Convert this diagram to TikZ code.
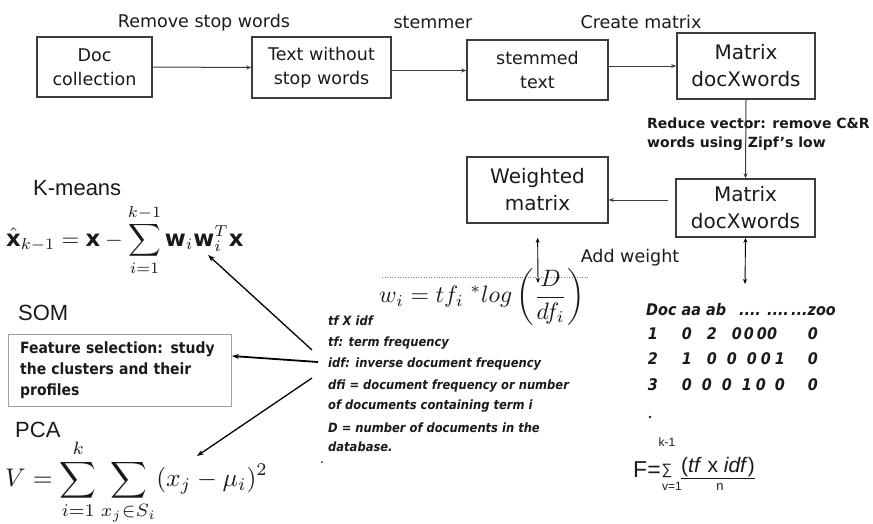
\documentclass[tikz,border=0pt]{standalone}
\usepackage{fontspec}
\usepackage{graphicx}
\setmainfont{DejaVu Sans}
\newfontfamily\condfont[FakeStretch=0.9]{DejaVu Sans}
\newfontfamily\arialfont{Liberation Sans}
\usetikzlibrary{arrows.meta}
\definecolor{boxline}{HTML}{3C3C3C}
\definecolor{featline}{HTML}{A0A0A0}
\definecolor{inkc}{HTML}{1A1A1A}
\begin{document}
\begin{tikzpicture}[x=1pt,y=-1pt,
  box/.style={draw=boxline, line width=1.6pt, align=center, inner sep=0pt, text=inkc},
  bigbox/.style={box, font=\fontsize{20}{27}\selectfont},
  smallbox/.style={box, font=\fontsize{17.5}{24}\selectfont},
  flow/.style={draw=boxline, line width=1pt, -{Stealth[length=5pt,width=4pt]}},
  bothflow/.style={draw=black, line width=0.9pt, {Stealth[length=5pt,width=4pt]}-{Stealth[length=5pt,width=4pt]}},
  pointer/.style={draw=black, line width=1.3pt, -{Stealth[length=7pt,width=5pt]}},
  lbl/.style={inner sep=0pt, text=inkc, font=\fontsize{17.5}{20}\selectfont},
  method/.style={inner sep=0pt, anchor=west, text=inkc, font=\arialfont\fontsize{22}{26}\selectfont},
  note/.style={inner sep=0pt, anchor=west, text=inkc, text height=9.5pt, text depth=3pt, font=\condfont\bfseries\itshape\fontsize{12.8}{16}\selectfont},
  cell/.style={inner sep=0pt, text=inkc, text height=11.5pt, text depth=0pt, font=\condfont\bfseries\itshape\fontsize{16}{18}\selectfont},
  flab/.style={inner sep=0pt, text=inkc, font=\arialfont\fontsize{12}{14}\selectfont}
]
\useasboundingbox (0,0) rectangle (873,523);

% top row
\node[smallbox, minimum width=115pt, minimum height=60pt] (doc) at (94.5,67) {Doc\\collection};
\node[smallbox, minimum width=139pt, minimum height=61pt] (nostop) at (321.5,67.5) {Text without\\stop words};
\node[smallbox, minimum width=141pt, minimum height=60pt] (stem) at (537.5,70) {stemmed\\text};
\node[bigbox, minimum width=138pt, minimum height=66pt] (mat1) at (746,66) {Matrix\\docXwords};
\node[bigbox, minimum width=139pt, minimum height=58pt] (mat2) at (745.5,208) {Matrix\\docXwords};
\node[bigbox, minimum width=141pt, minimum height=66pt] (wmat) at (537.5,190) {Weighted\\matrix};

\node[lbl] (l1) at (204,23) {Remove stop words};
\node[lbl] (l2) at (433,22) {stemmer};
\node[lbl] (l3) at (641,22) {Create matrix};
\node[lbl] (l4) at (630,258) {Add weight};
\node[anchor=north west, align=left, inner sep=0pt, text=inkc, font=\bfseries\fontsize{14}{19}\selectfont] (red) at (647,118) {Reduce vector: remove C\&R\\words using Zipf's low};

\draw[flow] (doc.east) -- (nostop.west);
\draw[flow] ([yshift=-3pt]nostop.east) -- ([yshift=-3pt]nostop.east -| stem.west);
\draw[flow] (stem.east |- mat1.west) -- (mat1.west);
\draw[flow] (mat1.south) -- (mat2.north);
\coordinate (wa) at ([xshift=-7pt,yshift=8pt]mat2.west);
\draw[flow] (wa) -- (wa -| wmat.east);
\coordinate (tabtop) at (745,284);
\draw[bothflow] (mat2.south) -- (tabtop);
\coordinate (wbot) at (538,283);
\draw[bothflow, shorten <=14pt] (wmat.south) -- (wbot);

% weight formula
\draw[dotted, gray, line width=0.6pt] (382,277) -- (588,277);
\node[inner sep=0pt, anchor=west, text=inkc] (wf) at (379,297) {\scalebox{2.37}{$\displaystyle w_i = tf_i\;{}^{*}log\left(\frac{D}{df_i}\right)$}};

% tf-idf notes
\node[note] (n1) at (328,322) {tf X idf};
\node[note] (n2) at (328,343) {tf: term frequency};
\node[note] (n3) at (328,364) {idf: inverse document frequency};
\node[note] (n4) at (328,386) {dfi = document frequency or number};
\node[note] (n5) at (328,406) {of documents containing term i};
\node[note] (n6) at (328,429) {D = number of documents in the};
\node[note] (n7) at (328,448) {database.};
\fill[inkc] (322,462) circle (1pt);

% left methods
\node[method] (km) at (33,188) {K-means};
\node[inner sep=0pt, anchor=west, text=inkc] (fx) at (6,240) {\scalebox{2.27}{$\displaystyle \hat{\mathbf{x}}_{k-1} = \mathbf{x} - \sum_{i=1}^{k-1}\mathbf{w}_i\mathbf{w}_i^T\mathbf{x}$}};
\node[method] (som) at (18,313) {SOM};
\node[draw=featline, line width=1.3pt, anchor=north west, minimum width=223pt, minimum height=72pt, text width=200pt, align=left, inner xsep=11pt, inner ysep=0pt, text=inkc, font=\condfont\bfseries\fontsize{15.5}{21}\selectfont] (feat) at (8,334) {Feature selection: study\\the clusters and their\\profiles};
\node[method] (pca) at (15,430) {PCA};
\node[inner sep=0pt, anchor=west, text=inkc] (fv) at (5,482) {\scalebox{2.55}{$\displaystyle V=\sum_{i=1}^{k}\sum_{x_j\in S_i}(x_j-\mu_i)^2$}};

\coordinate (a1s) at (312,350);
\coordinate (a1e) at (208,255);
\coordinate (a2s) at (318,362);
\coordinate (a2e) at (232,356);
\coordinate (a3s) at (312,378);
\coordinate (a3e) at (197,456);
\draw[pointer] (a1s) -- (a1e);
\draw[pointer, line width=1.8pt] (a2s) -- (a2e);
\draw[pointer] (a3s) -- (a3e);

% matrix table
\node[cell, anchor=west] (h1) at (646,310) {Doc aa ab};
\node[cell] (h2) at (750,310) {....};
\node[cell] (h3) at (778,310) {....};
\node[cell, anchor=west] (h4) at (791,310) {...zoo};
\foreach \xx/\tt [count=\k] in {653/1,687/0,712/2,737/0,749/0,767/00,813/0}
  \node[cell] (ra\k) at (\xx,334) {\tt};
\foreach \xx/\tt [count=\k] in {653/2,687/1,712/0,732/0,752/0,766/0,780/1,813/0}
  \node[cell] (rb\k) at (\xx,359) {\tt};
\foreach \xx/\tt [count=\k] in {653/3,687/0,707/0,727/0,747/1,761/0,780/0,813/0}
  \node[cell] (rc\k) at (\xx,385) {\tt};
\fill[inkc] (650,417) circle (1.3pt);

% F formula
\node[inner sep=0pt, anchor=west, text=inkc, font=\arialfont\fontsize{23}{26}\selectfont] (fF) at (633,470) {F=};
\node[inner sep=0pt, text=inkc, font=\arialfont\fontsize{15}{18}\selectfont] (fS) at (667,471) {∑};
\node[flab] (fk) at (667,442) {k-1};
\node[flab] (fvv) at (672,486) {v=1};
\node[inner sep=0pt, anchor=west, text=inkc, font=\arialfont\fontsize{21}{24}\selectfont] (ft) at (681,468) {\underline{(\textit{tf} x \textit{idf})}};
\node[flab, font=\arialfont\fontsize{13}{15}\selectfont] (fn) at (720,487) {n};
\end{tikzpicture}
\end{document}
